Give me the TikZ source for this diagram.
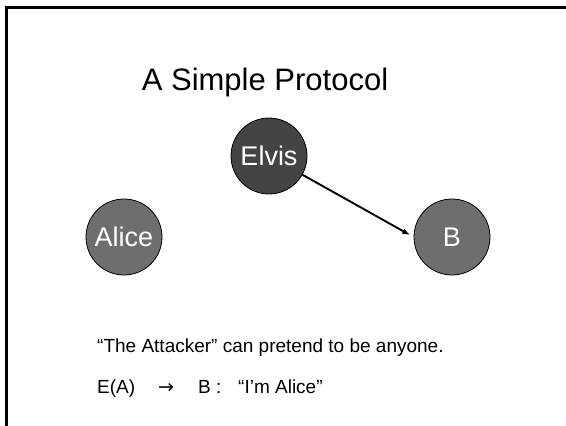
\documentclass[tikz,border=0pt]{standalone}
\usepackage{fontspec}
\setmainfont{Liberation Sans}
\newfontfamily\symfont{DejaVu Sans}
\usetikzlibrary{arrows.meta}
\definecolor{darkdisc}{RGB}{68,68,68}
\definecolor{middisc}{RGB}{110,110,110}
\tikzset{
  party/.style={circle, draw=black, line width=0.8pt, minimum size=76pt,
    inner sep=0pt, text=white, font=\fontsize{27}{27}\selectfont},
  bodytext/.style={anchor=base west, inner sep=0pt, font=\fontsize{19}{19}\selectfont},
  msg/.style={-{Latex[length=8pt,width=6pt]}, line width=1.9pt, shorten >=4pt}
}
\begin{document}
\begin{tikzpicture}[x=1pt, y=-1pt]
  \useasboundingbox (0,0) rectangle (566,426);
  % slide frame (top and left edges)
  \draw[line width=3pt] (6.5,426) -- (6.5,7.5) -- (566,7.5);
  % title
  \node[anchor=base, inner sep=0pt, font=\fontsize{31}{31}\selectfont] (title) at (265,90) {A Simple Protocol};
  % principals
  \node[party, fill=darkdisc] (elvis) at (269,156) {Elvis};
  \node[party, fill=middisc] (alice) at (124,237) {Alice};
  \node[party, fill=middisc] (bob) at (452,237) {B};
  % the message
  \draw[msg] (elvis) -- (bob.west);
  % explanation
  \node[bodytext] (line1) at (97,352) {“The Attacker” can pretend to be anyone.};
  \node[bodytext] (ea) at (97,393) {E(A)};
  \node[bodytext] (arr) at (158,393) {\symfont →};
  \node[bodytext] (bcolon) at (198,393) {B :};
  \node[bodytext] (claim) at (238,393) {“I’m Alice”};
\end{tikzpicture}
\end{document}
